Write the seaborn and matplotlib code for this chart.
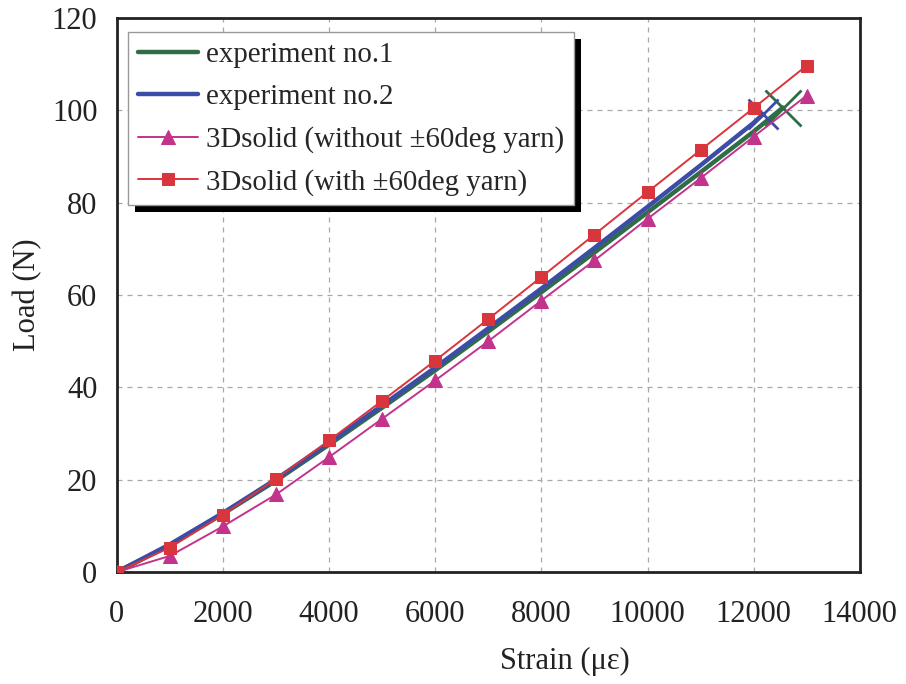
import matplotlib
matplotlib.use("Agg")
import matplotlib.pyplot as plt
import matplotlib.patches as mpatches
from matplotlib.transforms import IdentityTransform
import seaborn as sns
import numpy as np

# ---- data ----
strain_model = [0, 1000, 2000, 3000, 4000, 5000, 6000, 7000, 8000, 9000, 10000, 11000, 12000, 13000]
load_with = [0, 5.3, 12.4, 20.2, 28.5, 37.1, 45.8, 54.8, 63.9, 73.1, 82.3, 91.4, 100.5, 109.7]
load_without = [0, 3.5, 9.9, 16.8, 24.9, 33.2, 41.5, 50.0, 58.8, 67.5, 76.5, 85.3, 94.3, 103.2]

strain_exp1 = [0, 1000, 2000, 3000, 4000, 5000, 6000, 7000, 8000, 9000, 10000, 11000, 12000, 12550]
load_exp1 = [0, 5.8, 12.6, 19.8, 27.6, 35.6, 43.7, 52.1, 60.6, 69.2, 77.9, 86.6, 95.4, 100.6]
strain_exp2 = [0, 1000, 2000, 3000, 4000, 5000, 6000, 7000, 8000, 9000, 10000, 11000, 12000, 12180]
load_exp2 = [0, 6.0, 12.8, 20.1, 28.0, 36.1, 44.3, 52.8, 61.4, 70.2, 79.1, 88.1, 97.3, 99.2]

labels = ["experiment no.1", "experiment no.2",
          "3Dsolid (without \u00b160deg yarn)", "3Dsolid (with \u00b160deg yarn)"]
x_ticks = [0, 2000, 4000, 6000, 8000, 10000, 12000, 14000]
y_ticks = [0, 20, 40, 60, 80, 100, 120]

sns.set_style("white")
plt.rcParams['font.family'] = ['Liberation Serif', 'DejaVu Serif']

fig = plt.figure(figsize=(9.06, 6.84), dpi=100)
ax = fig.add_axes([0.129, 0.1637, 0.820, 0.810])

c_green = "#2f6e45"
c_blue = "#3b4da6"
c_mag = "#c2338c"
c_red = "#d8363c"

sns.lineplot(x=strain_exp1, y=load_exp1, ax=ax, color=c_green, linewidth=3.2, label=labels[0],
             sort=False, zorder=3)
sns.lineplot(x=strain_exp2, y=load_exp2, ax=ax, color=c_blue, linewidth=3.2, label=labels[1],
             sort=False, zorder=3)
sns.lineplot(x=strain_model, y=load_without, ax=ax, color=c_mag, linewidth=1.4, marker="^",
             markersize=10, markeredgecolor=c_mag, label=labels[2], sort=False, zorder=4)
sns.lineplot(x=strain_model, y=load_with, ax=ax, color=c_red, linewidth=1.4, marker="s",
             markersize=9, markeredgecolor=c_red, label=labels[3], sort=False, zorder=4)

# end markers (failure points) of experiments
ax.plot([strain_exp1[-1]], [load_exp1[-1]], marker="x", markersize=26, mew=2, color=c_green, zorder=3)
ax.plot([strain_exp2[-1]], [load_exp2[-1]], marker="x", markersize=22, mew=2, color=c_blue, zorder=3)

ax.set_xlim(0, 14000)
ax.set_ylim(0, 120)
ax.set_xticks(x_ticks)
ax.set_yticks(y_ticks)
ax.grid(True, linestyle=(0, (4, 4)), color="#a8a8a8", linewidth=0.9)
for s in ax.spines.values():
    s.set_color("#222222")
    s.set_linewidth(2)
ax.tick_params(axis="both", length=0, labelsize=22, colors="#222222")
ax.tick_params(axis="x", pad=20)
ax.tick_params(axis="y", pad=14)
ax.set_xlabel("Strain (\u03bc\u03b5)", fontsize=22, color="#222222")
ax.set_ylabel("Load (N)", fontsize=22, color="#222222")
ax.xaxis.set_label_coords(0.603, -0.135)
ax.yaxis.set_label_coords(-0.101, 0.5)

leg = ax.legend(loc="upper left", bbox_to_anchor=(0.015, 0.974), fontsize=20.8, frameon=True,
                fancybox=False, edgecolor="#999999", framealpha=1, handlelength=2.1,
                handletextpad=0.28, labelspacing=0.55, borderpad=0.33, borderaxespad=0.0)
leg.get_frame().set_linewidth(1)
leg.set_zorder(6)

fig.canvas.draw()
bb = leg.get_window_extent()
shadow = mpatches.Rectangle((bb.x0 + 7, bb.y0 - 7), bb.width, bb.height, transform=IdentityTransform(),
                            facecolor="black", edgecolor="none", zorder=5.5)
ax.add_artist(shadow)

fig.savefig("out.png", dpi=100)
